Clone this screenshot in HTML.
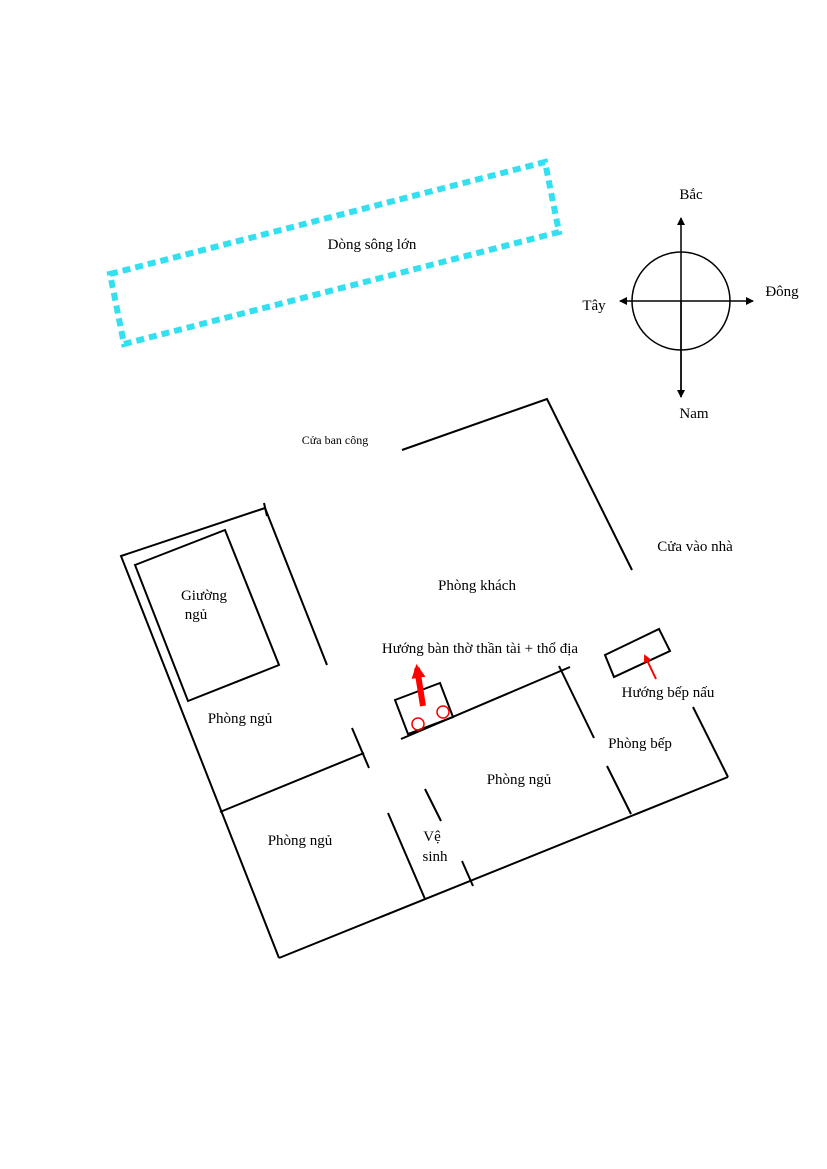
<!DOCTYPE html>
<html><head><meta charset="utf-8"><style>
html,body{margin:0;padding:0;background:#fff;}
svg{display:block}
text{font-family:"Liberation Serif",serif;font-size:15px;fill:#000;text-anchor:middle}
</style></head><body>
<svg width="827" height="1169" viewBox="0 0 827 1169">
<defs>
<marker id="a" markerWidth="8" markerHeight="8" refX="7" refY="4" orient="auto" markerUnits="userSpaceOnUse">
<path d="M0,0 L8,4 L0,8 z" fill="#000"/></marker>
<marker id="r" markerWidth="14" markerHeight="14" refX="10" refY="7" orient="auto" markerUnits="userSpaceOnUse">
<path d="M0,0 L14,7 L0,14 z" fill="#f00"/></marker>
<marker id="r2" markerWidth="8" markerHeight="8" refX="6" refY="4" orient="auto" markerUnits="userSpaceOnUse">
<path d="M0,0 L8,4 L0,8 z" fill="#f00"/></marker>
</defs>
<!-- river -->
<polygon points="110,274 545,162 559,232 124,344" fill="none" stroke="#33e0f0" stroke-width="6" stroke-dasharray="8,5"/>
<text x="372" y="249">Dòng sông lớn</text>
<!-- compass -->
<circle cx="681" cy="301" r="49" fill="none" stroke="#000" stroke-width="1.5"/>
<line x1="681" y1="397" x2="681" y2="218" stroke="#000" stroke-width="1.5" marker-end="url(#a)"/>
<line x1="681" y1="301" x2="681" y2="397" stroke="#000" stroke-width="1.5" marker-end="url(#a)"/>
<line x1="681" y1="301" x2="753" y2="301" stroke="#000" stroke-width="1.5" marker-end="url(#a)"/>
<line x1="681" y1="301" x2="620" y2="301" stroke="#000" stroke-width="1.5" marker-end="url(#a)"/>
<text x="691" y="199">Bắc</text>
<text x="782" y="296">Đông</text>
<text x="594" y="310">Tây</text>
<text x="694" y="418">Nam</text>
<!-- plan -->
<g stroke="#000" stroke-width="2" fill="none">
<polyline points="402,450 547,399 632,570"/>
<polyline points="279,958 121,556 265,508 327,665"/>
<line x1="264" y1="503" x2="267" y2="516"/>
<polygon points="135,565 225,530 279,665 188,701"/>
<line x1="220" y1="812" x2="364" y2="753"/>
<line x1="352" y1="728" x2="369" y2="768"/>
<line x1="401" y1="739" x2="570" y2="667"/>
<line x1="279" y1="958" x2="728" y2="777"/>
<line x1="693" y1="707" x2="728" y2="777"/>
<line x1="559" y1="666" x2="594" y2="738"/>
<line x1="607" y1="766" x2="631" y2="814"/>
<line x1="388" y1="813" x2="425" y2="899"/>
<line x1="425" y1="789" x2="441" y2="821"/>
<line x1="462" y1="861" x2="473" y2="886"/>
<polygon points="395,700 440,683 453,717 408,734"/>
<polygon points="605,655 659,629 670,651 614,677"/>
</g>
<circle cx="418" cy="724" r="6" fill="none" stroke="#f00" stroke-width="1.5"/>
<circle cx="443" cy="712" r="6" fill="none" stroke="#f00" stroke-width="1.5"/>
<line x1="423" y1="706" x2="417" y2="668" stroke="#f00" stroke-width="6" marker-end="url(#r)"/>
<line x1="656" y1="679" x2="645" y2="656" stroke="#f00" stroke-width="2" marker-end="url(#r2)"/>
<text x="335" y="444" style="font-size:12px">Cửa ban công</text>
<text x="477" y="590">Phòng khách</text>
<text x="695" y="551">Cửa vào nhà</text>
<text x="204" y="600">Giường</text>
<text x="196" y="619">ngủ</text>
<text x="480" y="653">Hướng bàn thờ thần tài + thổ địa</text>
<text x="668" y="697">Hướng bếp nấu</text>
<text x="240" y="723">Phòng ngủ</text>
<text x="640" y="748">Phòng bếp</text>
<text x="519" y="784">Phòng ngủ</text>
<text x="300" y="845">Phòng ngủ</text>
<text x="432" y="841">Vệ</text>
<text x="435" y="861">sinh</text>
</svg>
</body></html>
